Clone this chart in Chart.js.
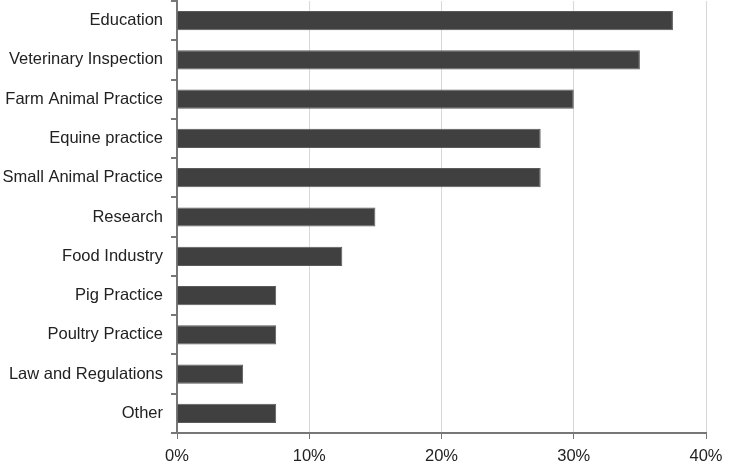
<!DOCTYPE html>
<html>
<head>
<meta charset="utf-8">
<script src="https://cdn.jsdelivr.net/npm/chart.js@4"></script>
<style>
html,body{margin:0;padding:0;background:#fff;}
#wrap{width:731px;height:465px;position:relative;}
</style>
</head>
<body>
<div id="wrap"><canvas id="c" width="731" height="465"></canvas></div>
<script>
const categories = ["Education","Veterinary Inspection","Farm Animal Practice","Equine practice","Small Animal Practice","Research","Food Industry","Pig Practice","Poultry Practice","Law and Regulations","Other"];
const shares = [37.5, 35, 30, 27.5, 27.5, 15, 12.5, 7.5, 7.5, 5, 7.5];
const xTicks = [0, 10, 20, 30, 40];

new Chart(document.getElementById('c'), {
  type: 'bar',
  data: {
    labels: categories,
    datasets: [{
      data: shares,
      backgroundColor: '#404040',
      borderColor: '#5a5a5a',
      borderWidth: 1,
      categoryPercentage: 1,
      barPercentage: 0.49
    }]
  },
  options: {
    indexAxis: 'y',
    responsive: false,
    animation: false,
    layout: {padding: {top: 1, right: 25, left: 0, bottom: 0}},
    plugins: {legend: {display: false}, tooltip: {enabled: false}},
    scales: {
      x: {
        min: 0, max: 40,
        afterBuildTicks: (s) => { s.ticks = xTicks.map(v => ({value: v})); },
        afterFit: (s) => { s.height = 32; s.paddingLeft = 0; s.paddingRight = 0; },
        ticks: {
          callback: (v) => v + '%',
          color: '#222',
          font: {family: 'Liberation Sans, Arial, sans-serif', size: 16.5},
          padding: 8,
          maxRotation: 0
        },
        grid: {color: '#d8d8d8', tickColor: '#777', tickLength: 6, lineWidth: 1},
        border: {color: '#777', width: 2}
      },
      y: {
        afterFit: (s) => { s.width = 177; s.paddingTop = 0; s.paddingBottom = 0; },
        ticks: {
          color: '#222',
          font: {family: 'Liberation Sans, Arial, sans-serif', size: 16.5},
          padding: 8
        },
        grid: {drawOnChartArea: false, drawTicks: true, tickLength: 6, color: '#777', offset: true, lineWidth: 2},
        border: {color: '#777', width: 2}
      }
    }
  }
});
</script>
</body>
</html>
